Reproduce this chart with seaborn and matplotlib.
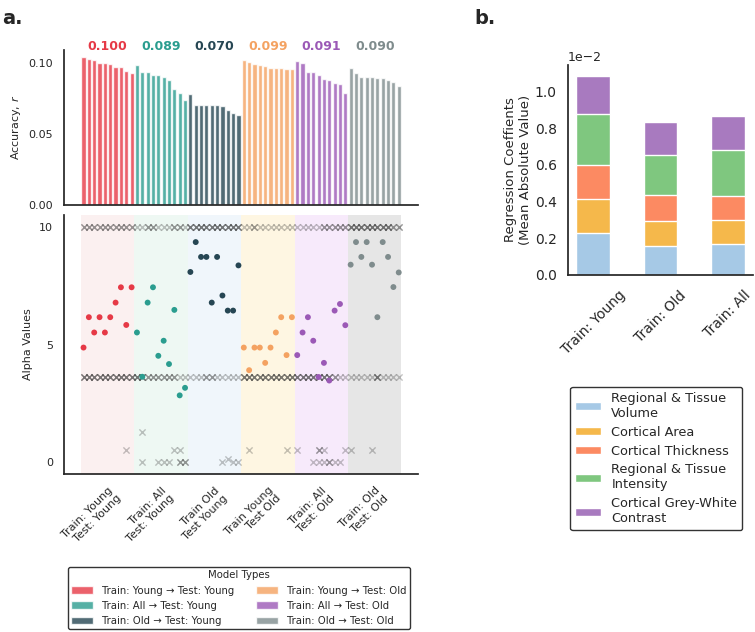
import numpy as np
import pandas as pd
import matplotlib
matplotlib.use("Agg")
import matplotlib.pyplot as plt
import matplotlib.transforms as mtrans
from matplotlib.patches import Patch
import seaborn as sns

# ---------------- data ----------------
groups = ["Train: Young → Test: Young", "Train: All → Test: Young", "Train: Old → Test: Young",
          "Train: Young → Test: Old", "Train: All → Test: Old", "Train: Old → Test: Old"]
tick_labels = ["Train: Young\nTest: Young", "Train: All\nTest: Young", "Train Old\nTest Young",
               "Train Young\nTest Old", "Train: All\nTest: Old", "Train: Old\nTest: Old"]
mean_labels = ["0.100", "0.089", "0.070", "0.099", "0.091", "0.090"]

acc_young_young = [0.1038, 0.1025, 0.1021, 0.1000, 0.1000, 0.0993, 0.0972, 0.0969, 0.0945, 0.0931]
acc_all_young = [0.0981, 0.0936, 0.0936, 0.0915, 0.0912, 0.0901, 0.0877, 0.0818, 0.0787, 0.0740]
acc_old_young = [0.0783, 0.0704, 0.0704, 0.0704, 0.0704, 0.0700, 0.0698, 0.0668, 0.0645, 0.0633]
acc_young_old = [0.1021, 0.1004, 0.0995, 0.0981, 0.0979, 0.0965, 0.0965, 0.0965, 0.0955, 0.0955]
acc_all_old = [0.1011, 0.0997, 0.0938, 0.0936, 0.0917, 0.0889, 0.0877, 0.0858, 0.0851, 0.0791]
acc_old_old = [0.0960, 0.0931, 0.0903, 0.0901, 0.0901, 0.0896, 0.0894, 0.0879, 0.0865, 0.0837]

alpha_young_young = [4.87, 6.16, 5.51, 6.16, 5.51, 6.16, 6.78, 7.43, 5.83, 7.43]
alpha_all_young = [5.51, 3.63, 6.78, 7.43, 4.52, 5.16, 4.17, 6.47, 2.84, 3.16]
alpha_old_young = [8.08, 9.35, 8.72, 8.72, 6.78, 8.72, 7.08, 6.44, 6.44, 8.36]
alpha_young_old = [4.87, 3.91, 4.87, 4.87, 4.22, 4.87, 5.51, 6.16, 4.55, 6.16]
alpha_all_old = [4.55, 5.51, 6.16, 5.16, 3.62, 4.22, 3.47, 6.44, 6.72, 5.82]
alpha_old_old = [8.39, 9.35, 8.72, 9.35, 8.39, 6.16, 9.35, 8.72, 7.44, 8.06]

# candidate alpha markers (x): counts of overlapping markers per model at the two main levels
cand_level_high = 10.0
cand_level_mid = 3.62
cand_high_counts = [2, 2, 2, 2, 2, 2, 2, 2, 2, 2,
                    1, 1, 2, 2, 1, 1, 1, 2, 2, 1,
                    3, 3, 3, 3, 3, 3, 3, 3, 3, 3,
                    1, 1, 2, 1, 1, 1, 1, 1, 1, 1,
                    1, 1, 1, 1, 1, 2, 2, 2, 2, 2,
                    3, 3, 3, 3, 3, 3, 3, 3, 2, 2]
cand_mid_counts = [3, 3, 3, 3, 3, 3, 3, 3, 3, 3,
                   3, 3, 2, 2, 2, 2, 2, 2, 1, 1,
                   1, 1, 1, 2, 2, 1, 1, 1, 1, 1,
                   3, 3, 3, 3, 3, 3, 3, 3, 3, 3,
                   3, 3, 3, 3, 3, 3, 3, 2, 1, 1,
                   1, 1, 1, 1, 1, 3, 1, 1, 1, 1]
cand_low_pos = [11, 8, 17, 18, 31, 38, 40, 44, 45, 49, 50, 54,
                11, 14, 15, 16, 18, 19, 26, 27, 28, 29, 43, 44, 45, 46, 47, 48]
cand_low_val = [1.28, 0.5, 0.5, 0.5, 0.5, 0.5, 0.5, 0.5, 0.5, 0.5, 0.5, 0.5,
                0.03, 0.03, 0.03, 0.03, 0.03, 0.03, 0.03, 0.15, 0.03, 0.03, 0.03, 0.03, 0.03, 0.03, 0.03, 0.03]
cand_low_count = [1, 1, 1, 1, 1, 1, 1, 2, 1, 1, 1, 1,
                  1, 1, 1, 1, 2, 2, 1, 1, 1, 1, 1, 1, 1, 2, 1, 1]

coef_models = ["Train: Young", "Train: Old", "Train: All"]
feature_names = ["Regional & Tissue\nVolume", "Cortical Area", "Cortical Thickness",
                 "Regional & Tissue\nIntensity", "Cortical Grey-White\nContrast"]
coef_volume = [0.00231, 0.00157, 0.00170]
coef_area = [0.00181, 0.00136, 0.00128]
coef_thickness = [0.00185, 0.00141, 0.00131]
coef_intensity = [0.00280, 0.00222, 0.00251]
coef_contrast = [0.00208, 0.00176, 0.00185]

# ---------------- styles ----------------
palette = ["#E63946", "#2A9D8F", "#264653", "#F4A261", "#9B59B6", "#7F8C8D"]
span_colors = ["#fbf0f0", "#eef8f3", "#f0f6fb", "#fef6e2", "#f7eafb", "#e6e6e6"]
feat_colors = ["#a6c9e6", "#f5b84b", "#fc8a62", "#7fc77f", "#a87abf"]

sns.set_theme(style="white")
plt.rcParams["font.family"] = ["DejaVu Sans"]

acc_all = [acc_young_young, acc_all_young, acc_old_young, acc_young_old, acc_all_old, acc_old_old]
alpha_all = [alpha_young_young, alpha_all_young, alpha_old_young, alpha_young_old, alpha_all_old, alpha_old_old]
rows = []
for g, (accs, alps) in enumerate(zip(acc_all, alpha_all)):
    for k, (a, al) in enumerate(zip(accs, alps)):
        rows.append({"pos": g * 10 + k, "acc": a, "alpha": al, "model": groups[g]})
df = pd.DataFrame(rows)

cand = []
for i, c in enumerate(cand_high_counts):
    cand += [(i, cand_level_high)] * c
for i, c in enumerate(cand_mid_counts):
    cand += [(i, cand_level_mid)] * c
for p, v, c in zip(cand_low_pos, cand_low_val, cand_low_count):
    cand += [(p, v)] * c
cand_df = pd.DataFrame(cand, columns=["pos", "val"])

fig = plt.figure(figsize=(7.55, 6.32), dpi=100)
ax1 = fig.add_axes([0.0848, 0.6756, 0.4688, 0.2453])
ax2 = fig.add_axes([0.0848, 0.2500, 0.4688, 0.4098])
ax3 = fig.add_axes([0.7523, 0.5649, 0.2450, 0.3323])

xlim = (-3.65, 62.6)

# ---- top: accuracy bars ----
sns.barplot(data=df, x="pos", y="acc", hue="model", hue_order=groups, palette=palette,
            native_scale=True, dodge=False, width=0.78, saturation=1, alpha=0.8,
            legend=False, ax=ax1)
ax1.set_xlim(*xlim)
ax1.set_ylim(0, 0.109)
ax1.set_yticks([0.0, 0.05, 0.10])
ax1.set_yticklabels(["0.00", "0.05", "0.10"])
ax1.set_xticks([])
ax1.set_xlabel("")
ax1.set_ylabel("Accuracy, $r$", fontsize=8)
ax1.tick_params(axis="y", labelsize=8, pad=2)
trans = mtrans.blended_transform_factory(ax1.transData, ax1.transAxes)
for g in range(6):
    ax1.text(g * 10 + 4.5, 0.997, mean_labels[g], transform=trans, ha="center", va="baseline",
             fontsize=9, fontweight="bold", color=palette[g])
sns.despine(ax=ax1)

# ---- bottom: alpha values ----
for g in range(6):
    ax2.axvspan(g * 10 - 0.5, g * 10 + 9.5, color=span_colors[g], zorder=0, lw=0)
sns.scatterplot(data=cand_df, x="pos", y="val", marker="x", color="#2a2a2a", alpha=0.28,
                s=20, linewidth=1.0, ax=ax2, zorder=2)
sns.scatterplot(data=df, x="pos", y="alpha", hue="model", hue_order=groups, palette=palette,
                s=18, linewidth=0, legend=False, ax=ax2, zorder=3)
ax2.set_xlim(*xlim)
ax2.set_ylim(-0.5, 10.5)
ax2.set_yticks([0, 5, 10])
ax2.set_ylabel("Alpha Values", fontsize=8)
ax2.set_xlabel("")
ax2.set_xticks([g * 10 + 4.5 for g in range(6)])
ax2.set_xticklabels(tick_labels, rotation=45, ha="right", rotation_mode="anchor", fontsize=8)
ax2.tick_params(axis="both", labelsize=8, pad=2)
sns.despine(ax=ax2)

handles = [Patch(facecolor=palette[g], alpha=0.8, label=groups[g]) for g in range(6)]
fig.legend(handles=handles, title="Model Types", ncol=2, loc="upper center",
           bbox_to_anchor=(0.316, 0.103), borderaxespad=0, fontsize=7.3, title_fontsize=7.3,
           frameon=True, edgecolor="#333333", framealpha=1,
           handlelength=2.2, handleheight=0.7, handletextpad=0.8, columnspacing=2.2,
           labelspacing=0.5, borderpad=0.35)

# ---- right: regression coefficients (stacked) ----
layers = [coef_volume, coef_area, coef_thickness, coef_intensity, coef_contrast]
cum = np.cumsum(np.array(layers), axis=0)
for j in range(len(layers) - 1, -1, -1):
    sns.barplot(x=coef_models, y=cum[j], color=feat_colors[j], saturation=1, width=0.5,
                edgecolor="white", linewidth=1.0, ax=ax3)
ax3.set_xlim(-0.375, 2.375)
ax3.set_ylim(0, 0.01144)
ax3.ticklabel_format(axis="y", style="sci", scilimits=(0, 0))
ax3.yaxis.get_offset_text().set_fontsize(9)
ax3.set_yticks([0, 0.002, 0.004, 0.006, 0.008, 0.010])
ax3.set_ylabel("Regression Coeffients\n(Mean Absolute Value)", fontsize=9.5, labelpad=2)
ax3.tick_params(axis="y", labelsize=10, pad=2)
ax3.set_xticks(range(3))
ax3.set_xticklabels(coef_models, rotation=45, ha="center", fontsize=10)
sns.despine(ax=ax3)

fhandles = [Patch(facecolor=feat_colors[j], label=feature_names[j]) for j in range(5)]
fig.legend(handles=fhandles, loc="upper left", bbox_to_anchor=(0.755, 0.388), borderaxespad=0,
           fontsize=9.3, frameon=True, edgecolor="#333333", framealpha=1,
           handlelength=2.0, handleheight=0.6, handletextpad=0.8,
           labelspacing=0.45, borderpad=0.4)

fig.text(0.003, 0.985, "a.", fontsize=14, fontweight="bold", va="top", ha="left")
fig.text(0.628, 0.985, "b.", fontsize=14, fontweight="bold", va="top", ha="left")

fig.savefig("out.png", dpi=100)
